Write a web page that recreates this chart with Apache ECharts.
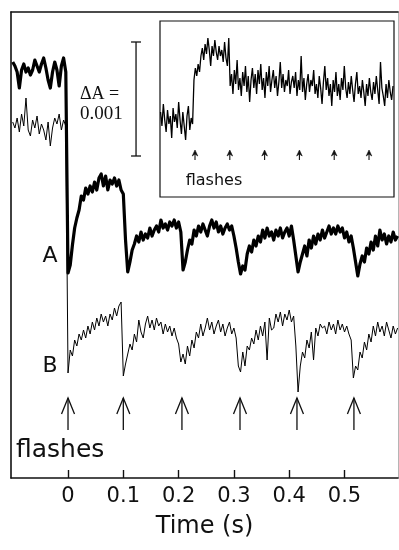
<!DOCTYPE html>
<html><head><meta charset="utf-8">
<script src="https://cdn.jsdelivr.net/npm/echarts@6/dist/echarts.min.js"></script>
<style>html,body{margin:0;padding:0;background:#fff}#c{width:399px;height:550px}</style>
</head><body><div id="c"></div>
<script>
// Sampling of the traces (time in s)
const T_START = -0.1;
const DT = 0.004;

// Trace A (thick), absorbance change in arbitrary units, before flash 0
const traceA_pre = [416, 412, 406, 390, 408, 414, 406, 410, 403, 408, 418, 412, 406, 414, 420, 410, 398, 390, 406, 416, 408, 392, 412, 420, 406];
// Trace A from t = 0
const traceA_post = [
  205, 213, 233, 250, 260, 268, 282, 278, 290, 284,
  292, 286, 296, 288, 300, 304, 292, 302, 288, 298,
  294, 300, 292, 298, 288, 284, 238, 206, 216, 228,
  234, 242, 236, 246, 238, 244, 240, 250, 242, 248,
  252, 246, 258, 250, 254, 248, 256, 252, 258, 250,
  256, 246, 208, 216, 228, 238, 234, 248, 242, 252,
  246, 254, 248, 242, 252, 258, 250, 256, 246, 252,
  244, 250, 254, 248, 252, 242, 230, 216, 204, 212,
  208, 224, 232, 226, 238, 232, 242, 236, 248, 240,
  250, 242, 246, 238, 248, 242, 250, 240, 246, 250,
  242, 252, 238, 222, 206, 216, 224, 232, 222, 238,
  230, 242, 234, 244, 238, 248, 240, 246, 252, 244,
  250, 244, 252, 246, 250, 240, 246, 236, 242, 230,
  216, 202, 214, 222, 216, 230, 224, 236, 228, 242,
  232, 248, 238, 244, 234, 242, 236, 246, 238, 242
];

// Trace B (thin)
const traceB_pre = [356, 350, 360, 346, 364, 352, 380, 348, 342, 358, 350, 362, 344, 354, 348, 338, 356, 332, 350, 360, 354, 364, 348, 358, 352];
const traceB_post = [
  105, 128, 122, 138, 132, 144, 138, 148, 140, 152,
  144, 156, 148, 160, 152, 164, 156, 162, 152, 164,
  158, 170, 162, 172, 176, 102, 114, 124, 134, 128,
  144, 136, 158, 146, 140, 154, 162, 150, 158, 148,
  160, 152, 156, 144, 154, 146, 152, 142, 150, 140,
  134, 116, 124, 114, 132, 122, 138, 130, 146, 140,
  154, 142, 150, 160, 148, 156, 144, 152, 158, 146,
  154, 142, 150, 156, 144, 150, 140, 112, 106, 126,
  112, 132, 128, 140, 134, 148, 138, 152, 142, 156,
  118, 160, 148, 150, 164, 156, 166, 152, 164, 158,
  168, 156, 162, 132, 86, 112, 126, 120, 138, 130,
  146, 118, 150, 142, 154, 150, 152, 144, 156, 148,
  154, 144, 158, 148, 154, 146, 152, 144, 138, 100,
  112, 108, 126, 120, 136, 128, 144, 136, 152, 142,
  156, 146, 152, 142, 156, 148, 140, 152, 144, 150
];

// Inset trace
const INSET_T_START = -0.099;
const insetTrace = [
  85, 71, 93, 77, 65, 87, 73, 81, 59, 89, 75, 83, 69, 95, 77, 63, 85, 71, 57, 81, 91, 67, 79, 73,
  117, 129, 121, 133, 125, 141, 149, 137, 153, 143,
  159, 147, 131, 151, 141, 157, 145, 137, 151, 141,
  147, 135, 155, 139, 131, 159, 111, 123, 103, 127,
  113, 137, 107, 119, 101, 125, 111, 131, 105, 121,
  95, 117, 129, 109, 123, 103, 127, 113, 133, 107,
  119, 99, 125, 111, 131, 105, 117, 127, 109, 121,
  101, 115, 135, 109, 123, 105, 117, 111, 127, 103,
  115, 121, 109, 125, 101, 117, 107, 141, 105, 119,
  97, 113, 123, 105, 117, 111, 127, 103, 113, 99,
  121, 109, 93, 115, 131, 107, 119, 101, 113, 91,
  117, 105, 125, 101, 113, 97, 119, 107, 131, 109,
  99, 115, 103, 121, 107, 95, 113, 125, 103, 111,
  99, 117, 105, 91, 113, 101, 119, 105, 97, 115,
  103, 121, 107, 93, 135, 109, 101, 91, 113, 99,
  117, 105, 97, 111
];

const flashTimes = [0, 0.1, 0.206, 0.311, 0.414, 0.517];
const insetFlashTimes = [0, 0.1, 0.2, 0.3, 0.4, 0.5];
const xTicks = [0, 0.1, 0.2, 0.3, 0.4, 0.5];
const xTickLabels = ['0', '0.1', '0.2', '0.3', '0.4', '0.5'];
const scaleBarValue = 'ΔA =';
const scaleBarAmount = '0.001';
// scale bar: 0.001 ΔA spans this many trace units
const SCALE_BAR_UNITS = 114;

function toPairs(start, arr) {
  return arr.map((v, i) => [+(start + i * DT).toFixed(4), v]);
}
const dataA = toPairs(T_START, traceA_pre.concat(traceA_post));
const dataB = toPairs(T_START, traceB_pre.concat(traceB_post));
const dataInset = toPairs(INSET_T_START, insetTrace);

const chart = echarts.init(document.getElementById('c'), null, {renderer: 'canvas'});
const ink = '#111';
const font = 'DejaVu Sans';

const option = {
  animation: false,
  backgroundColor: '#fff',
  grid: [
    {left: 11, top: 12, width: 387, height: 466, show: false},
    {left: 160, top: 21, width: 234, height: 176, show: true, borderColor: ink, borderWidth: 1.2, backgroundColor: '#fff', z: 3}
  ],
  xAxis: [
    {
      gridIndex: 0, type: 'value', min: -0.1031, max: 0.5967, position: 'bottom',
      axisLine: {show: true, onZero: false, lineStyle: {color: ink, width: 1.6}},
      axisTick: {show: true, inside: true, length: 8, customValues: xTicks, lineStyle: {color: ink, width: 1.4}},
      axisLabel: {show: true, customValues: xTicks, margin: 8, color: ink, fontSize: 21, fontFamily: font,
        formatter: v => xTickLabels[xTicks.findIndex(t => Math.abs(t - v) < 1e-6)] ?? ''},
      splitLine: {show: false},
      name: 'Time (s)', nameLocation: 'middle', nameGap: 37,
      nameTextStyle: {color: ink, fontSize: 24, fontFamily: font}
    },
    {
      gridIndex: 0, type: 'value', min: -0.1031, max: 0.5967, position: 'top',
      axisLine: {show: true, onZero: false, lineStyle: {color: ink, width: 1.6}},
      axisTick: {show: false}, axisLabel: {show: false}, splitLine: {show: false}
    },
    {gridIndex: 1, type: 'value', min: -0.1006, max: 0.5718, show: false}
  ],
  yAxis: [
    {
      gridIndex: 0, type: 'value', min: 0, max: 466, position: 'left',
      axisLine: {show: true, onZero: false, lineStyle: {color: ink, width: 1.6}},
      axisTick: {show: false}, axisLabel: {show: false}, splitLine: {show: false}
    },
    {
      gridIndex: 0, type: 'value', min: 0, max: 466, position: 'right',
      axisLine: {show: true, onZero: false, lineStyle: {color: '#b5b5b5', width: 1}},
      axisTick: {show: false}, axisLabel: {show: false}, splitLine: {show: false}
    },
    {gridIndex: 1, type: 'value', min: 0, max: 176, show: false}
  ],
  series: [
    {
      name: 'A', type: 'line', xAxisIndex: 0, yAxisIndex: 0, data: dataA,
      showSymbol: false, lineStyle: {color: '#000', width: 3.2, join: 'round'}, z: 5
    },
    {
      name: 'B', type: 'line', xAxisIndex: 0, yAxisIndex: 0, data: dataB,
      showSymbol: false, lineStyle: {color: '#000', width: 1}, z: 5
    },
    {
      name: 'inset', type: 'line', xAxisIndex: 2, yAxisIndex: 2, data: dataInset,
      showSymbol: false, lineStyle: {color: '#000', width: 1.3}, z: 6
    },
    {
      name: 'flashArrows', type: 'custom', xAxisIndex: 0, yAxisIndex: 0,
      data: flashTimes.map(t => [t, 80, 48]),
      renderItem: (params, api) => {
        const tip = api.coord([api.value(0), api.value(1)]);
        const base = api.coord([api.value(0), api.value(2)]);
        return {type: 'group', children: [
          {type: 'line', shape: {x1: tip[0], y1: tip[1], x2: base[0], y2: base[1]}, style: {stroke: ink, lineWidth: 1.3}},
          {type: 'polyline', shape: {points: [[tip[0] - 6.5, tip[1] + 16], [tip[0], tip[1]], [tip[0] + 6.5, tip[1] + 16]]},
            style: {stroke: ink, fill: null, lineWidth: 1.3}}
        ]};
      }, z: 5
    },
    {
      name: 'insetArrows', type: 'custom', xAxisIndex: 2, yAxisIndex: 2,
      data: insetFlashTimes.map(t => [t, 47, 37]),
      renderItem: (params, api) => {
        const tip = api.coord([api.value(0), api.value(1)]);
        const base = api.coord([api.value(0), api.value(2)]);
        return {type: 'group', children: [
          {type: 'line', shape: {x1: tip[0], y1: tip[1] + 3, x2: base[0], y2: base[1]}, style: {stroke: ink, lineWidth: 1.1}},
          {type: 'polygon', shape: {points: [[tip[0] - 2.8, tip[1] + 6], [tip[0], tip[1]], [tip[0] + 2.8, tip[1] + 6], [tip[0], tip[1] + 4]]},
            style: {fill: ink, stroke: ink, lineWidth: 0.6}}
        ]};
      }, z: 6
    },
    {
      name: 'scaleBar', type: 'custom', xAxisIndex: 0, yAxisIndex: 0,
      data: [[0.123, 322, 322 + SCALE_BAR_UNITS]],
      renderItem: (params, api) => {
        const lo = api.coord([api.value(0), api.value(1)]);
        const hi = api.coord([api.value(0), api.value(2)]);
        const s = {stroke: ink, lineWidth: 1.3};
        return {type: 'group', children: [
          {type: 'line', shape: {x1: lo[0], y1: lo[1], x2: hi[0], y2: hi[1]}, style: s},
          {type: 'line', shape: {x1: lo[0] - 5, y1: lo[1], x2: lo[0] + 5, y2: lo[1]}, style: s},
          {type: 'line', shape: {x1: hi[0] - 5, y1: hi[1], x2: hi[0] + 5, y2: hi[1]}, style: s}
        ]};
      }, z: 5
    }
  ],
  graphic: [
    {type: 'text', x: 50, y: 256, style: {text: 'A', fontSize: 22, fontFamily: font, fill: ink, align: 'center', verticalAlign: 'middle'}},
    {type: 'text', x: 50, y: 366, style: {text: 'B', fontSize: 22, fontFamily: font, fill: ink, align: 'center', verticalAlign: 'middle'}},
    {type: 'text', x: 16, y: 450, style: {text: 'flashes', fontSize: 25, fontFamily: font, fill: ink, align: 'left', verticalAlign: 'middle'}},
    {type: 'text', x: 214, y: 181, z: 10, style: {text: 'flashes', fontSize: 16, fontFamily: font, fill: ink, align: 'center', verticalAlign: 'middle'}},
    {type: 'text', x: 80, y: 94, style: {text: scaleBarValue, fontSize: 18, fontFamily: 'Liberation Serif', fill: ink, align: 'left', verticalAlign: 'middle'}},
    {type: 'text', x: 80, y: 114, style: {text: scaleBarAmount, fontSize: 19, fontFamily: 'Liberation Serif', fill: ink, align: 'left', verticalAlign: 'middle'}}
  ]
};
chart.setOption(option);
</script>
</body></html>
